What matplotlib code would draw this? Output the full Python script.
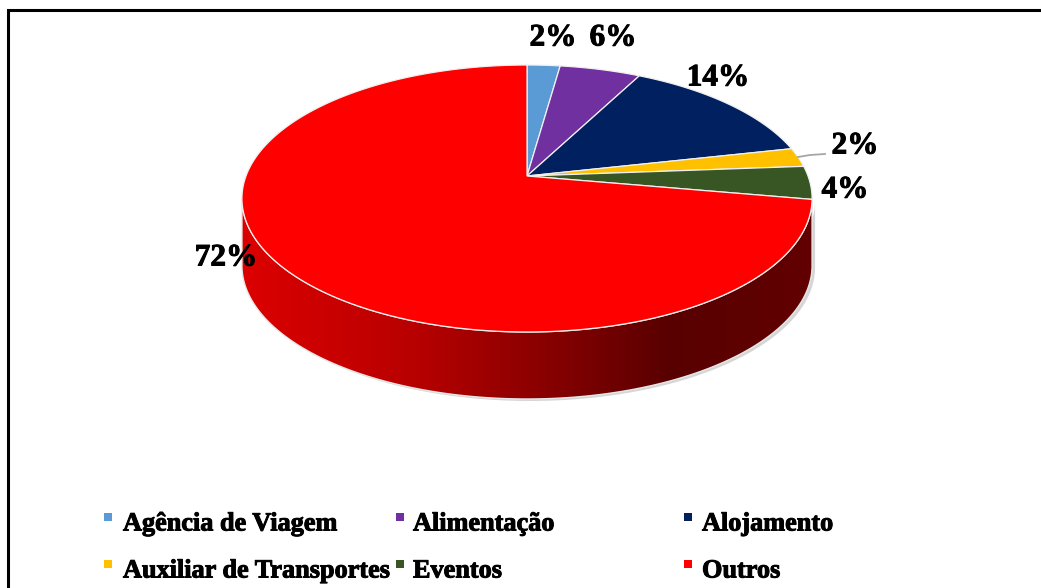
import numpy as np
from matplotlib import pyplot as plt
from matplotlib.patches import Polygon
from matplotlib.colors import LinearSegmentedColormap
import matplotlib.patheffects as pe

# dados do grafico
categorias = ['Agência de Viagem', 'Alimentação', 'Alojamento',
              'Auxiliar de Transportes', 'Eventos', 'Outros']
valores = [2.2, 5.4, 13.9, 2.3, 4.0, 72.2]
rotulos = ['2%', '6%', '14%', '2%', '4%', '72%']
cores = ['#5b9bd5', '#7030a0', '#002060', '#ffc000', '#375623', '#ff0000']

# posicao dos rotulos (pixels)
rotulo_xy = [(553, 38), (613, 38), (718, 78), (855, 146), (845, 190), (226, 258)]
legenda_x = [[108, 123], [400, 413], [688, 702]]
legenda_y = [524, 571]

cx, cy = 527, 176       # vertice da pizza
a, b, k = 281, 129.7, 0.1685   # perspectiva do disco
altura = 67

fig = plt.figure(figsize=(10.41, 5.88), dpi=100)
ax = fig.add_axes([0, 0, 1, 1])
ax.set_xlim(0, 1041)
ax.set_ylim(588, 0)
ax.axis('off')


def disco(theta):
    # theta medido a partir do topo, sentido horario
    x, y = np.sin(theta), np.cos(theta)
    w = 1 + k * y
    return cx + a * x / w, cy - b * y / w


# lateral
t = np.linspace(0, 2 * np.pi, 721)
xd, yd = disco(t)
esq, dir_ = np.argmin(xd), np.argmax(xd)
tl = np.linspace(t[dir_], t[esq], 300)
xl, yl = disco(tl)
lado = np.column_stack([np.r_[xl, xl[::-1]], np.r_[yl, yl[::-1] + altura]])

# sombra leve
sombra = Polygon(lado + [3, 2], closed=True, fc='#bbbbbb', ec='none', alpha=0.6, zorder=1)
ax.add_patch(sombra)

cmap = LinearSegmentedColormap.from_list('lado', [(0, '#dc0000'), (0.3, '#b80000'),
                                                  (0.6, '#7a0000'), (0.75, '#580000'),
                                                  (1, '#620000')])
grad = np.linspace(0, 1, 256).reshape(1, -1)
im = ax.imshow(grad, extent=[xd.min(), xd.max(), 400, 190], cmap=cmap, aspect='auto', zorder=2)
pl = Polygon(lado, closed=True, fc='none', ec='#e8e8e8', lw=1.0, zorder=3)
ax.add_patch(pl)
im.set_clip_path(pl)
ax.set_xlim(0, 1041)
ax.set_ylim(588, 0)

# fatias
acum = np.cumsum([0] + valores) / sum(valores) * 2 * np.pi
for i, cor in enumerate(cores):
    th = np.linspace(acum[i], acum[i + 1], 200)
    xs, ys = disco(th)
    pts = np.column_stack([np.r_[cx, xs], np.r_[cy, ys]])
    ax.add_patch(Polygon(pts, closed=True, fc=cor, ec='#f0f0f0', lw=0.9, zorder=4))

# linha de chamada
ax.plot([798, 810, 825], [157, 155, 154], color='#a6a6a6', lw=1.3, zorder=5)

fonte = dict(family='Liberation Serif', weight='bold', color='black')
traco = [pe.withStroke(linewidth=0.7, foreground='black')]
for txt, (x, y) in zip(rotulos, rotulo_xy):
    ax.text(x, y, txt, fontsize=22.5, ha='center', va='center', zorder=6, path_effects=traco, **fonte)

# legenda
for i, nome in enumerate(categorias):
    col = i % 3
    lin = i // 3
    ax.scatter(legenda_x[col][0], legenda_y[lin] - 7, marker='s', s=34, color=cores[i], zorder=6, linewidths=0)
    ax.text(legenda_x[col][1], legenda_y[lin], nome, fontsize=18.9, ha='left', va='center', zorder=6,
            path_effects=traco, **fonte)

# moldura: topo e esquerda
ax.plot([1041, 7.5, 7.5], [10, 10, 588], color='black', lw=2.2, zorder=7, solid_joinstyle='miter')

fig.savefig('out.png', dpi=100)
